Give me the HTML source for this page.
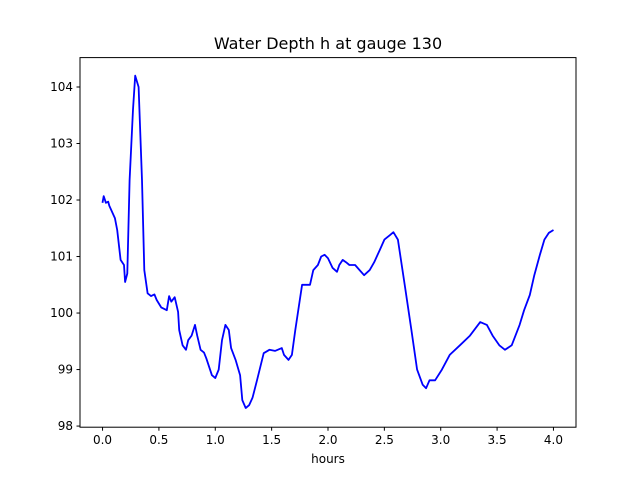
<!DOCTYPE html>
<html><head><meta charset="utf-8">
<style>
body{margin:0;background:#fff;}
svg{display:block;font-family:"DejaVu Sans","Liberation Sans",sans-serif;}
</style></head>
<body>
<svg id="chart" width="640" height="480" viewBox="0 0 640 480">
<rect width="640" height="480" fill="#fff"/>
<text x="328" y="49" text-anchor="middle" font-size="16">Water Depth h at gauge 130</text>
<g id="xticks"></g>
<g id="yticks"></g>
<path id="line" fill="none" stroke="#0000ff" stroke-width="1.8" stroke-linejoin="round"/>
<rect x="80" y="57.6" width="496" height="369.6" fill="none" stroke="#000" stroke-width="1"/>
<text x="328" y="463" text-anchor="middle" font-size="12">hours</text>
</svg>
<script>
const hours=[0,0.01,0.03,0.05,0.06,0.11,0.13,0.16,0.19,0.2,0.22,0.24,0.27,0.29,0.32,0.35,0.37,0.4,0.43,0.46,0.48,0.52,0.57,0.59,0.61,0.64,0.67,0.68,0.71,0.74,0.76,0.79,0.82,0.84,0.87,0.9,0.92,0.97,1.0,1.03,1.06,1.09,1.12,1.14,1.18,1.22,1.24,1.27,1.3,1.33,1.37,1.43,1.48,1.53,1.59,1.61,1.65,1.68,1.71,1.75,1.77,1.8,1.84,1.87,1.91,1.94,1.97,2.0,2.04,2.08,2.1,2.13,2.16,2.19,2.24,2.28,2.32,2.37,2.41,2.46,2.5,2.55,2.58,2.62,2.68,2.74,2.79,2.84,2.87,2.9,2.95,3.01,3.08,3.17,3.26,3.35,3.41,3.46,3.52,3.57,3.63,3.7,3.74,3.79,3.83,3.88,3.92,3.96,4.0];
const depth=[101.95,102.07,101.95,101.97,101.9,101.68,101.47,100.94,100.85,100.55,100.7,102.35,103.6,104.2,104.0,102.35,100.76,100.35,100.3,100.33,100.23,100.1,100.05,100.3,100.2,100.28,100.02,99.7,99.43,99.35,99.52,99.6,99.79,99.6,99.35,99.3,99.2,98.9,98.85,99.0,99.52,99.79,99.7,99.38,99.17,98.9,98.46,98.32,98.37,98.5,98.81,99.29,99.35,99.33,99.38,99.26,99.17,99.26,99.7,100.23,100.5,100.5,100.5,100.76,100.85,101.0,101.03,100.97,100.8,100.73,100.85,100.94,100.9,100.85,100.85,100.76,100.67,100.76,100.9,101.12,101.3,101.38,101.43,101.3,100.5,99.7,99.0,98.73,98.67,98.81,98.81,99.0,99.26,99.43,99.6,99.84,99.79,99.6,99.43,99.35,99.43,99.79,100.05,100.32,100.67,101.03,101.3,101.42,101.47];
const xTicks=[0,0.5,1,1.5,2,2.5,3,3.5,4];
const xTickLabels=["0.0","0.5","1.0","1.5","2.0","2.5","3.0","3.5","4.0"];
const yTicks=[98,99,100,101,102,103,104];
const yTickLabels=["98","99","100","101","102","103","104"];
const X0=80,X1=576,Y0=57.6,Y1=427.2;
const xmin=-0.2,xmax=4.2,ymin=97.98,ymax=104.52;
const sx=v=>X0+(v-xmin)/(xmax-xmin)*(X1-X0);
const sy=v=>Y1-(v-ymin)/(ymax-ymin)*(Y1-Y0);
const NS="http://www.w3.org/2000/svg";
const xg=document.getElementById('xticks'),yg=document.getElementById('yticks');
xTicks.forEach((t,i)=>{
 const l=document.createElementNS(NS,'line');
 l.setAttribute('x1',sx(t));l.setAttribute('x2',sx(t));l.setAttribute('y1',Y1);l.setAttribute('y2',Y1+3.5);l.setAttribute('stroke','#000');
 
 
 xg.appendChild(l);
 const tx=document.createElementNS(NS,'text');
 tx.setAttribute('x',sx(t));tx.setAttribute('y',Y1+17);tx.setAttribute('text-anchor','middle');tx.setAttribute('font-size','12');
 tx.textContent=xTickLabels[i];
 
 
 xg.appendChild(tx);
});
yTicks.forEach((t,i)=>{
 const l=document.createElementNS(NS,'line');
 l.setAttribute('x1',X0-3.5);l.setAttribute('x2',X0);l.setAttribute('y1',sy(t));l.setAttribute('y2',sy(t));l.setAttribute('stroke','#000');
 
 
 yg.appendChild(l);
 const tx=document.createElementNS(NS,'text');
 tx.setAttribute('x',X0-7);tx.setAttribute('y',sy(t)+4);tx.setAttribute('text-anchor','end');tx.setAttribute('font-size','12');
 tx.textContent=yTickLabels[i];
 
 
 yg.appendChild(tx);
});
document.getElementById('line').setAttribute('d',hours.map((h,i)=>(i?'L':'M')+sx(h).toFixed(1)+','+sy(depth[i]).toFixed(1)).join(''));
</script>
</body></html>
